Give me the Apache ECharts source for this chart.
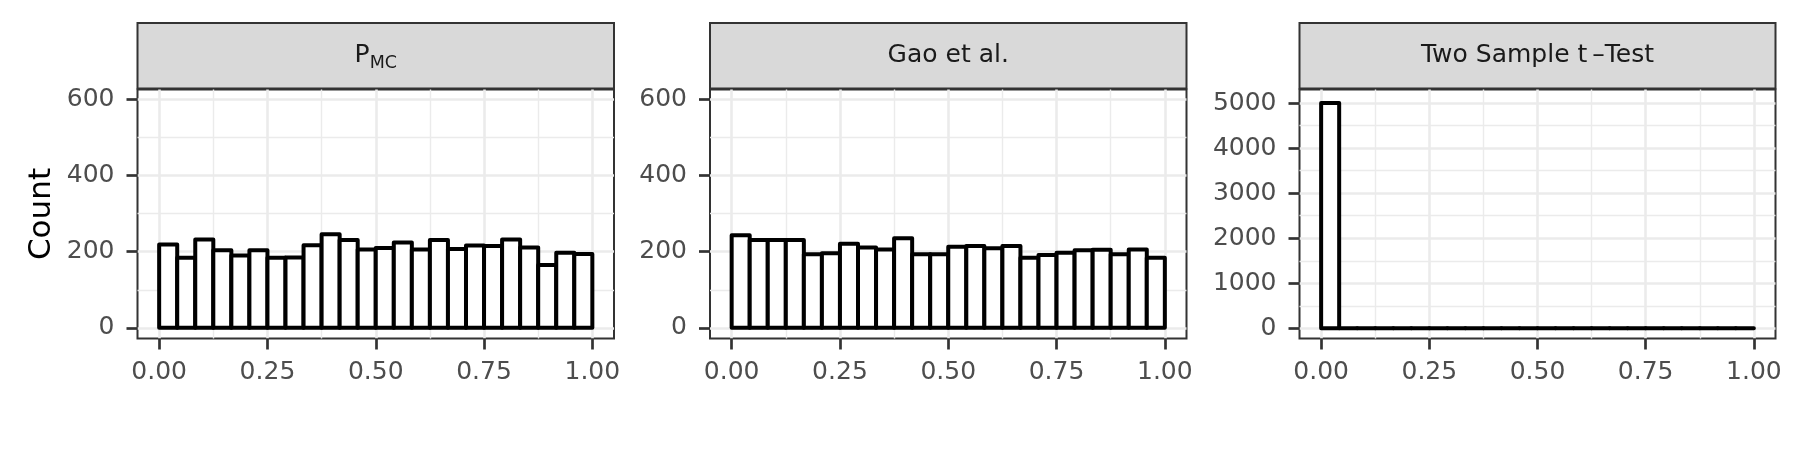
<!DOCTYPE html>
<html>
<head>
<meta charset="utf-8">
<script src="https://cdn.jsdelivr.net/npm/echarts@6/dist/echarts.min.js"></script>
<style>
  html, body { margin: 0; padding: 0; background: #fff; }
  #chart { width: 1800px; height: 450px; }
</style>
</head>
<body>
<div id="chart"></div>
<script>
// histogram counts per bin (24 bins over 0..1)
const binCount = 24;
const pmcCounts = [219, 184, 232, 204, 190, 204, 184, 185, 217, 246, 231, 206,
                   210, 224, 206, 231, 207, 216, 215, 232, 211, 165, 197, 194];
const gaoCounts = [243, 231, 231, 231, 193, 196, 221, 211, 206, 235, 193, 193,
                   213, 215, 209, 215, 184, 191, 197, 204, 205, 193, 206, 184];
const tTestCounts = [5000, 0, 0, 0, 0, 0, 0, 0, 0, 0, 0, 0,
                     0, 0, 0, 0, 0, 0, 0, 0, 0, 0, 0, 0];

const panelTitles = ['P_MC', 'Gao et al.', 'Two Sample t\u2009\u2013Test'];

const xTicks = [0, 0.25, 0.5, 0.75, 1];
const xMinorTicks = [0.125, 0.375, 0.625, 0.875];
const yTicksSmall = [0, 200, 400, 600];
const yMinorSmall = [100, 300, 500];
const yTicksBig = [0, 1000, 2000, 3000, 4000, 5000];
const yMinorBig = [500, 1500, 2500, 3500, 4500];

const panels = [
  { counts: pmcCounts, left: 137.5, width: 476.5, yMin: -28, yMax: 626, yTicks: yTicksSmall, yMinor: yMinorSmall },
  { counts: gaoCounts, left: 710, width: 476.5, yMin: -28, yMax: 626, yTicks: yTicksSmall, yMinor: yMinorSmall },
  { counts: tTestCounts, left: 1299.5, width: 476, yMin: -225, yMax: 5300, yTicks: yTicksBig, yMinor: yMinorBig }
];

const gridTop = 89.5, gridHeight = 249;
const stripTop = 23, stripHeight = 65.5;
const font = 'DejaVu Sans';
const gridColor = '#EBEBEB';

const chart = echarts.init(document.getElementById('chart'), null, { renderer: 'canvas' });

const grid = [], xAxis = [], yAxis = [], series = [], graphic = [];

panels.forEach((p, i) => {
  grid.push({
    left: p.left, top: gridTop, width: p.width, height: gridHeight,
    show: true, borderColor: '#333333', borderWidth: 2, backgroundColor: '#fff'
  });
});

// major axes (ticks, labels, major grid)
panels.forEach((p, i) => {
  xAxis.push({
    gridIndex: i, type: 'value', min: -0.05, max: 1.05,
    axisLine: { show: false, onZero: false },
    axisTick: { show: true, customValues: xTicks, length: 11, lineStyle: { color: '#333333', width: 2.7 } },
    axisLabel: { customValues: xTicks, formatter: v => v.toFixed(2), fontSize: 25, color: '#4D4D4D', fontFamily: font, margin: 21 },
    splitLine: { show: true, lineStyle: { color: gridColor, width: 2.6 } }
  });
  yAxis.push({
    gridIndex: i, type: 'value', min: p.yMin, max: p.yMax,
    name: i === 0 ? 'Count' : '',
    nameLocation: 'middle', nameGap: 80, nameRotate: 90,
    nameTextStyle: { fontSize: 31, color: '#000', fontFamily: font },
    axisLine: { show: false, onZero: false },
    axisTick: { show: true, customValues: p.yTicks, length: 11, lineStyle: { color: '#333333', width: 2.7 } },
    axisLabel: { customValues: p.yTicks, formatter: v => String(v), fontSize: 25, color: '#4D4D4D', fontFamily: font, margin: 23 },
    splitLine: { show: true, lineStyle: { color: gridColor, width: 2.6 } }
  });
});

// minor grid lines
panels.forEach((p, i) => {
  xAxis.push({
    gridIndex: i, type: 'value', min: -0.05, max: 1.05,
    axisLine: { show: false, onZero: false },
    axisTick: { show: false, customValues: xMinorTicks },
    axisLabel: { show: false, customValues: xMinorTicks },
    splitLine: { show: true, lineStyle: { color: gridColor, width: 1.4 } }
  });
  yAxis.push({
    gridIndex: i, type: 'value', min: p.yMin, max: p.yMax,
    axisLine: { show: false, onZero: false },
    axisTick: { show: false, customValues: p.yMinor },
    axisLabel: { show: false, customValues: p.yMinor },
    splitLine: { show: true, lineStyle: { color: gridColor, width: 1.4 } }
  });
});

panels.forEach((p, i) => {
  const data = p.counts.map((c, k) => [k / binCount, (k + 1) / binCount, c]);
  series.push({
    type: 'custom',
    xAxisIndex: i, yAxisIndex: i,
    data: data,
    clip: false,
    z: 10,
    renderItem: (params, api) => {
      const a = api.coord([api.value(0), api.value(2)]);
      const b = api.coord([api.value(1), 0]);
      return {
        type: 'rect',
        shape: { x: a[0], y: a[1], width: b[0] - a[0], height: b[1] - a[1] },
        style: { fill: '#fff', stroke: '#000', lineWidth: 4, lineJoin: 'round' }
      };
    }
  });

  graphic.push({
    type: 'rect',
    shape: { x: p.left, y: stripTop, width: p.width, height: stripHeight },
    style: { fill: '#D9D9D9', stroke: '#333333', lineWidth: 2 }
  });
  const title = panelTitles[i];
  const isSub = title.indexOf('_') >= 0;
  const parts = title.split('_');
  graphic.push({
    type: 'text',
    x: p.left + p.width / 2,
    y: stripTop + stripHeight / 2,
    style: {
      text: isSub ? '{p|' + parts[0] + '}{s|' + parts[1] + '}' : title,
      rich: isSub ? {
        p: { fontSize: 25, fontFamily: font, fill: '#1A1A1A' },
        s: { fontSize: 17.5, fontFamily: font, fill: '#1A1A1A', padding: [15, 0, 0, 0] }
      } : undefined,
      fontSize: 25, fontFamily: font, fill: '#1A1A1A',
      align: 'center', verticalAlign: 'middle'
    }
  });
});

chart.setOption({
  backgroundColor: '#fff',
  animation: false,
  grid, xAxis, yAxis, series, graphic
});
</script>
</body>
</html>
